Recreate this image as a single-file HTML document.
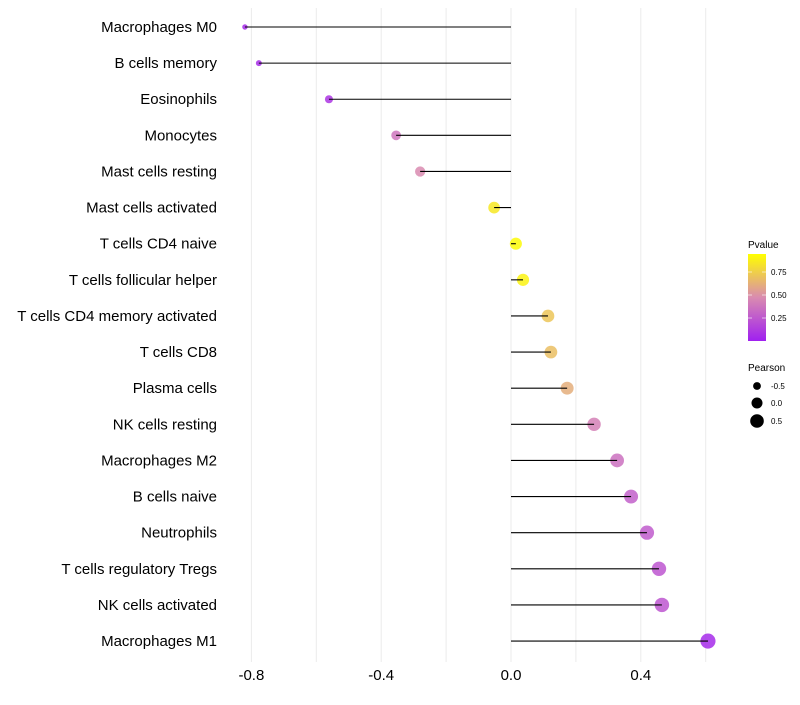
<!DOCTYPE html>
<html><head><meta charset="utf-8"><style>
body{margin:0;background:#fff;font-family:"Liberation Sans",sans-serif}
</style></head><body>
<svg id="c" width="800" height="700" xmlns="http://www.w3.org/2000/svg">
<defs><linearGradient id="pg" x1="0" y1="1" x2="0" y2="0">
<stop offset="0" stop-color="#a020f0"/><stop offset="0.5" stop-color="#d98bb0"/><stop offset="1" stop-color="#ffff00"/></linearGradient></defs>
<g id="grid"></g>
<g id="marks"></g>
<g id="ylab"></g>
<g id="xlab"></g>
<g>
<text x="748" y="248" font-size="10" fill="#000">Pvalue</text>
<rect x="748" y="254" width="18" height="87" fill="url(#pg)"/>
<line x1="748" y1="272" x2="752" y2="272" stroke="#fff" stroke-opacity=".6"/><line x1="762" y1="272" x2="766" y2="272" stroke="#fff" stroke-opacity=".6"/>
<line x1="748" y1="295" x2="752" y2="295" stroke="#fff" stroke-opacity=".6"/><line x1="762" y1="295" x2="766" y2="295" stroke="#fff" stroke-opacity=".6"/>
<line x1="748" y1="318" x2="752" y2="318" stroke="#fff" stroke-opacity=".6"/><line x1="762" y1="318" x2="766" y2="318" stroke="#fff" stroke-opacity=".6"/>
<text x="771" y="275" font-size="8">0.75</text><text x="771" y="298" font-size="8">0.50</text><text x="771" y="321" font-size="8">0.25</text>
</g>
<g>
<text x="748" y="371" font-size="10">Pearson</text>
<circle cx="757" cy="386" r="3.9"/><text x="771" y="389" font-size="8">-0.5</text>
<circle cx="757" cy="403" r="5.5"/><text x="771" y="406" font-size="8">0.0</text>
<circle cx="757" cy="421" r="6.8"/><text x="771" y="424" font-size="8">0.5</text>
</g>
</svg>
<script>
const categories=["Macrophages M0","B cells memory","Eosinophils","Monocytes","Mast cells resting","Mast cells activated","T cells CD4 naive","T cells follicular helper","T cells CD4 memory activated","T cells CD8","Plasma cells","NK cells resting","Macrophages M2","B cells naive","Neutrophils","T cells regulatory  Tregs","NK cells activated","Macrophages M1"];
const pearson=[-0.82,-0.777,-0.561,-0.354,-0.28,-0.052,0.015,0.037,0.114,0.123,0.173,0.256,0.327,0.37,0.419,0.456,0.465,0.607];
const pvalue=[0.05,0.06,0.1,0.4,0.5,0.9,0.98,0.95,0.75,0.72,0.65,0.45,0.38,0.3,0.28,0.25,0.25,0.05];
const xticks=[-0.8,-0.4,0,0.4];
const xtickLabels=["-0.8","-0.4","0.0","0.4"];
const NS="http://www.w3.org/2000/svg";
const x=v=>511+v*324.5;
const y=i=>27+i*36.12;
function mk(t,a,p){const e=document.createElementNS(NS,t);for(const k in a)e.setAttribute(k,a[k]);p.appendChild(e);return e;}
function lerp(a,b,t){return a.map((v,i)=>Math.round(v+(b[i]-v)*t));}
function col(p){const c0=[160,32,240],c1=[217,139,176],c2=[255,255,0];const c=p<0.5?lerp(c0,c1,p/0.5):lerp(c1,c2,(p-0.5)/0.5);return `rgb(${c.join(',')})`;}
const grid=document.getElementById('grid'),marks=document.getElementById('marks'),yl=document.getElementById('ylab'),xl=document.getElementById('xlab');
[-0.8,-0.6,-0.4,-0.2,0,0.2,0.4,0.6].forEach(v=>{const g=mk('line',{x1:x(v),x2:x(v),y1:8,y2:662,stroke:'#ebebeb','stroke-width':1},grid);

});
xticks.forEach((v,i)=>{const t=mk('text',{x:x(v),y:680,'font-size':15,'text-anchor':'middle',fill:'#000'},xl);t.textContent=xtickLabels[i];

});
categories.forEach((c,i)=>{
const t=mk('text',{x:217,y:y(i)+5,'font-size':15,'text-anchor':'end',fill:'#000'},yl);t.textContent=c;


const r=Math.sqrt(Math.max(1,36+35*pearson[i]));
const p=mk('circle',{cx:x(pearson[i]),cy:y(i),r:r,fill:col(pvalue[i]),'fill-opacity':0.85},marks);


const l=mk('line',{x1:x(0),x2:x(pearson[i]),y1:y(i),y2:y(i),stroke:'#000','stroke-width':1.1},marks);


});
</script>
</body></html>
